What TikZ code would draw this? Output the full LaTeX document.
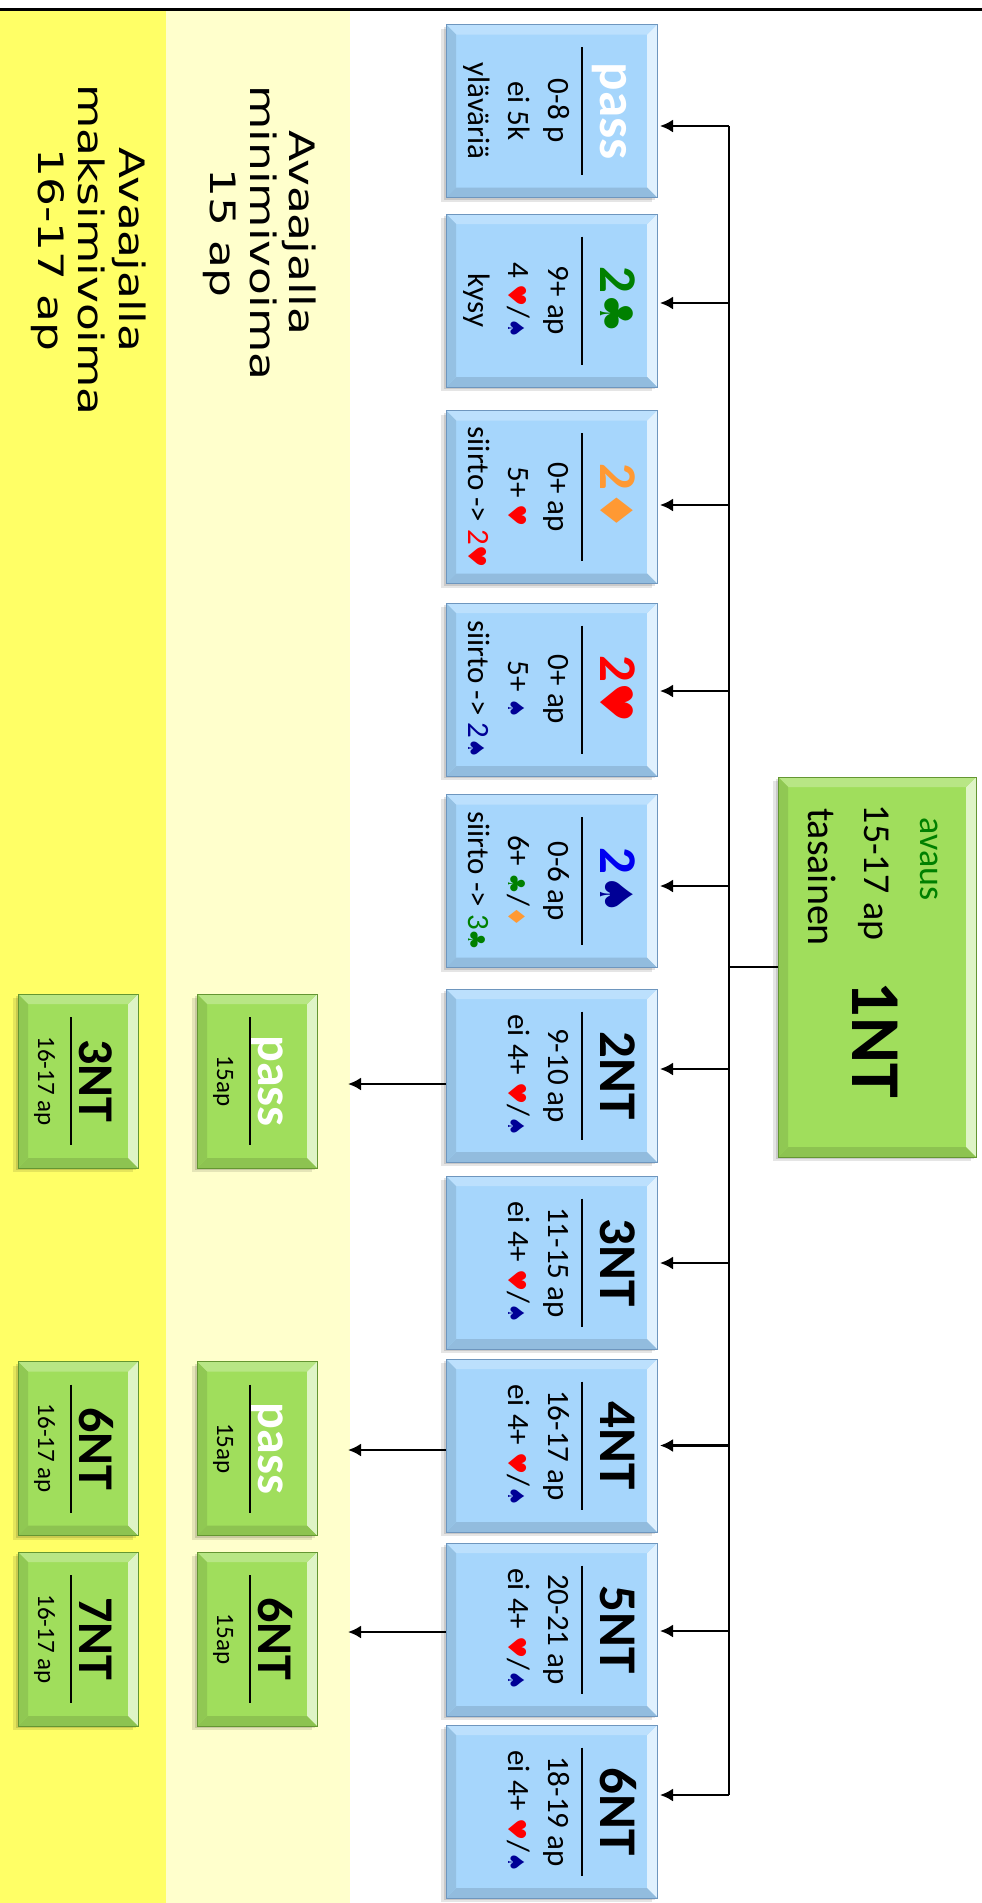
\documentclass[tikz,border=0pt]{standalone}
\usepackage{fontspec}
\setmainfont{Carlito}
\newfontfamily\djv{DejaVu Sans}
\newfontfamily\djvw[FakeStretch=1.3]{DejaVu Sans}
\usetikzlibrary{arrows.meta,calc}
\pgfdeclarelayer{bg}
\pgfdeclarelayer{sh}
\pgfsetlayers{bg,sh,main}

\definecolor{bfill}{RGB}{166,214,252}
\definecolor{bedge}{RGB}{110,150,190}
\definecolor{gfill}{RGB}{160,222,92}
\definecolor{gedge}{RGB}{100,150,50}
\definecolor{yband}{RGB}{255,255,102}
\definecolor{lyband}{RGB}{255,255,204}
\definecolor{cgreen}{RGB}{0,128,0}
\definecolor{corange}{RGB}{255,153,51}
\definecolor{cred}{RGB}{255,0,0}
\definecolor{cnavy}{RGB}{0,0,150}
\definecolor{cblue}{RGB}{0,0,240}

\newcommand\suitH{\textcolor{cred}{\scalebox{0.8}{\djv ♥}}}
\newcommand\suitS{\textcolor{cnavy}{\scalebox{0.72}{\djv ♠}}}
\newcommand\suitC{\textcolor{cgreen}{\scalebox{0.75}{\djv ♣}}}
\newcommand\suitD{\textcolor{corange}{\scalebox{0.75}{\djv ♦}}}
\newcommand\tsuit[1]{\scalebox{0.85}{\djv #1}}

\tikzset{
  bluebox/.style={fill=bfill, minimum width=173pt, minimum height=211pt, inner sep=0pt, outer sep=0pt},
  grbox/.style={fill=gfill, minimum width=174pt, minimum height=120pt, inner sep=0pt, outer sep=0pt},
  ttl/.style={font=\fontsize{53}{53}\selectfont\bfseries, inner sep=0pt},
  gttl/.style={font=\fontsize{50}{50}\selectfont\bfseries, inner sep=0pt},
  bdy/.style={font=\fontsize{31}{31}\selectfont, inner sep=0pt},
  gbdy/.style={font=\fontsize{25}{25}\selectfont, inner sep=0pt},
  lab/.style={font=\djvw\fontsize{35}{35}\selectfont, inner sep=0pt, anchor=base},
  rulel/.style={line width=2pt},
  conn/.style={line width=2.3pt},
  arr/.style={conn, -{Latex[length=13pt,width=13pt]}},
}

\newcommand\boxdeco[3]{%
  \begin{pgfonlayer}{sh}
  \fill[black,opacity=.12] ($(#1.south west)+(2,-2)$) rectangle ($(#1.north east)+(2,-2)$);
  \fill[black,opacity=.10] ($(#1.south west)+(4,-5)$) rectangle ($(#1.north east)+(4,-5)$);
  \end{pgfonlayer}
  \fill[#2!35!white] (#1.north west) -- (#1.north east) -- ($(#1.north east)+(-10,-10)$) -- ($(#1.north west)+(10,-10)$) -- cycle;
  \fill[#2!75!white] (#1.north west) -- ($(#1.north west)+(10,-10)$) -- ($(#1.south west)+(10,10)$) -- (#1.south west) -- cycle;
  \fill[#2!88!black] (#1.north east) -- ($(#1.north east)+(-10,-10)$) -- ($(#1.south east)+(-10,10)$) -- (#1.south east) -- cycle;
  \fill[#2!90!black] (#1.south west) -- ($(#1.south west)+(10,10)$) -- ($(#1.south east)+(-10,10)$) -- (#1.south east) -- cycle;
  \draw[#3,line width=1pt] (#1.south west) rectangle (#1.north east);
}

% blue box: name, X centre, title
\newcommand\bluebase[3]{%
  \node[bluebox] (#1) at (#2,551.5) {};
  \boxdeco{#1}{bfill}{bedge}
  \node[ttl,anchor=base] (#1-t) at ($(#1.south)+(0,154)$) {#3};
  \draw[rulel] ($(#1.south)+(-64,136)$) -- ($(#1.south)+(64,136)$);
}
\newcommand\bluethree[6]{%
  \bluebase{#1}{#2}{#3}
  \node[bdy,anchor=base] (#1-a) at ($(#1.south)+(0,102)$) {#4};
  \node[bdy,anchor=base] (#1-b) at ($(#1.south)+(0,62)$) {#5};
  \node[bdy,anchor=base] (#1-c) at ($(#1.south)+(0,22)$) {#6};
}
\newcommand\bluetwo[5]{%
  \bluebase{#1}{#2}{#3}
  \node[bdy,anchor=base] (#1-a) at ($(#1.south)+(0,102)$) {#4};
  \node[bdy,anchor=base] (#1-b) at ($(#1.south)+(0,62)$) {#5};
}
% green box: name, X, Y, title, title colour, body
\newcommand\greenbox[6]{%
  \node[grbox] (#1) at (#2,#3) {};
  \boxdeco{#1}{gfill}{gedge}
  \node[gttl,text=#5,anchor=base] (#1-t) at ($(#1.south)+(0,61)$) {#4};
  \draw[rulel] ($(#1.south)+(-64,53)$) -- ($(#1.south)+(64,53)$);
  \node[gbdy,anchor=base] (#1-a) at ($(#1.south)+(0,20)$) {#6};
}
% arrow from bus down to a box: name, x offset
\newcommand\arrto[2]{%
  \draw[arr] ($(#1.north)+(#2,72)$) -- ($(#1.north)+(#2,3)$);
}

\begin{document}
\begin{tikzpicture}
\begin{scope}[rotate=-90,x=1pt,y=1pt,every node/.append style={transform shape}]
\useasboundingbox (0,0) rectangle (1903,982);
\begin{pgfonlayer}{bg}
\fill[yband] (11,0) rectangle (1903,166);
\fill[lyband] (11,166) rectangle (1903,350);
\end{pgfonlayer}
\draw[line width=2.5pt] (9.5,0) -- (9.5,982);

% band labels
\node[lab] (ly1) at (233,289) {Avaajalla};
\node[lab] (ly2) at (233,250) {minimivoima};
\node[lab] (ly3) at (233,210) {15 ap};
\node[lab] (yy1) at (250,119) {Avaajalla};
\node[lab] (yy2) at (250,78) {maksimivoima};
\node[lab] (yy3) at (250,38) {16-17 ap};

% opening box
\node[fill=gfill, minimum width=380pt, minimum height=198pt, inner sep=0pt, outer sep=0pt] (n1NT) at (967,877) {};
\boxdeco{n1NT}{gfill}{gedge}
\node[font=\fontsize{36}{36}\selectfont, text=cgreen, anchor=base, inner sep=0pt] (n1NT-a) at (859,920) {avaus};
\node[font=\fontsize{38}{38}\selectfont, anchor=base, inner sep=0pt] (n1NT-b) at (872.5,864) {15-17 ap};
\node[font=\fontsize{40}{40}\selectfont, anchor=base, inner sep=0pt] (n1NT-c) at (877,808) {tasainen};
\node[font=\fontsize{70}{70}\selectfont\bfseries, anchor=base, inner sep=0pt] (n1NT-t) at (1040,852) {1NT};

% responses
\bluethree{bpass}{111}{\textcolor{white}{pass}}{0-8 p}{ei 5k}{yläväriä}
\bluethree{bclub}{300.5}{\textcolor{cgreen}{2\tsuit{♣}}}{9+ ap}{4 \suitH/\suitS}{kysy}
\bluethree{bdiam}{497}{\textcolor{corange}{2\tsuit{♦}}}{0+ ap}{5+ \suitH}{siirto -> \textcolor{cred}{2}\suitH}
\bluethree{bheart}{689.5}{\textcolor{cred}{2\tsuit{♥}}}{0+ ap}{5+ \suitS}{siirto -> \textcolor{cnavy}{2}\suitS}
\bluethree{bspade}{881}{\textcolor{cblue}{2}\textcolor{cnavy}{\tsuit{♠}}}{0-6 ap}{6+ \suitC/\suitD}{siirto -> \textcolor{cgreen}{3}\suitC}
\bluetwo{btwoNT}{1075.5}{2NT}{9-10 ap}{ei 4+ \suitH/\suitS}
\bluetwo{bthreeNT}{1262.5}{3NT}{11-15 ap}{ei 4+ \suitH/\suitS}
\bluetwo{bfourNT}{1445.5}{4NT}{16-17 ap}{ei 4+ \suitH/\suitS}
\bluetwo{bfiveNT}{1629.5}{5NT}{20-21 ap}{ei 4+ \suitH/\suitS}
\bluetwo{bsixNT}{1811.5}{6NT}{18-19 ap}{ei 4+ \suitH/\suitS}

% rebids
\greenbox{gA}{1081}{257}{pass}{white}{15ap}
\greenbox{gB}{1448.5}{257}{pass}{white}{15ap}
\greenbox{gC}{1639}{257}{6NT}{black}{15ap}
\greenbox{gD}{1081}{78}{3NT}{black}{16-17 ap}
\greenbox{gE}{1448.5}{78}{6NT}{black}{16-17 ap}
\greenbox{gF}{1639}{78}{7NT}{black}{16-17 ap}

% bus and connectors
\coordinate (busA) at (126,729);
\coordinate (busB) at (1795,729);
\draw[conn] (busA) -- (busB);
\draw[conn] (n1NT.south) -- ($(n1NT.south)+(0,-49)$);
\arrto{bpass}{15}
\arrto{bclub}{2.5}
\arrto{bdiam}{8}
\arrto{bheart}{1.5}
\arrto{bspade}{5}
\arrto{btwoNT}{-6.5}
\arrto{bthreeNT}{0.5}
\arrto{bfourNT}{0}
\arrto{bfiveNT}{1.5}
\arrto{bsixNT}{-16.5}

\draw[arr] ($(btwoNT.south)+(8.5,0)$) -- ($(gA.north)+(3,31)$);
\draw[arr] ($(bfourNT.south)+(4.5,0)$) -- ($(gB.north)+(1.5,31)$);
\draw[arr] ($(bfiveNT.south)+(2.5,0)$) -- ($(gC.north)+(-7,31)$);
\end{scope}
\end{tikzpicture}
\end{document}
